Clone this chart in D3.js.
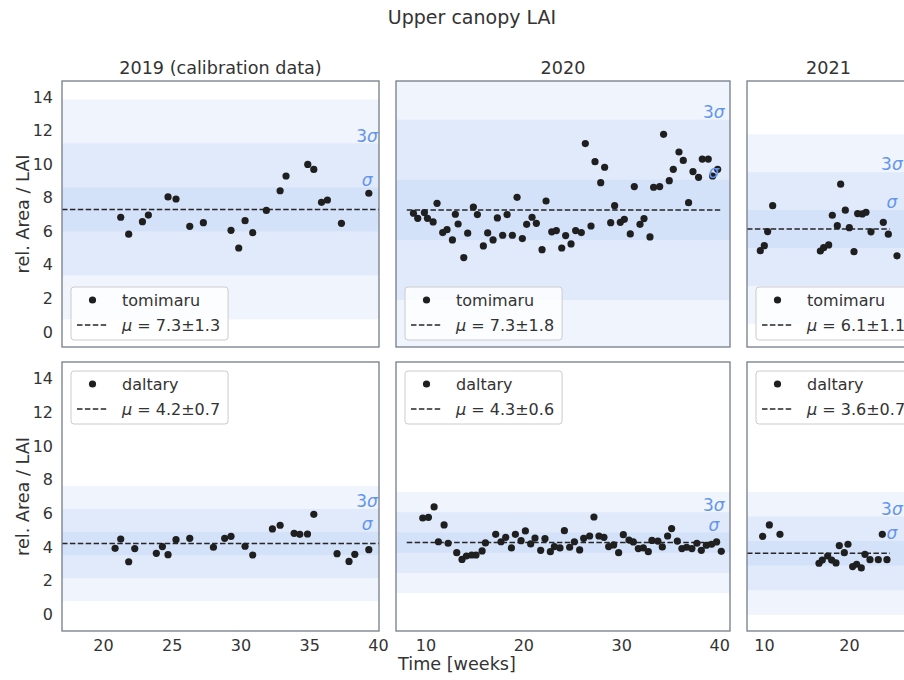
<!DOCTYPE html>
<html><head><meta charset="utf-8">
<script src="https://cdn.jsdelivr.net/npm/d3@7"></script>
<style>
body{margin:0;background:#fff;overflow:hidden}
svg{display:block}
text{font-family:"DejaVu Sans",sans-serif;fill:#333333}
</style>
</head><body><svg id="chart" width="904" height="680"></svg>
<script>
// ---------- data ----------
const suptitle = "Upper canopy LAI";
const columnTitles = ["2019 (calibration data)", "2020", "2021"];
const rowNames = ["tomimaru", "daltary"];
const xDomains = [[17.02, 40.07], [7.0, 41.1], [8.0, 27.18]];
const xTicks = [[20, 25, 30, 35, 40], [10, 20, 30, 40], [10, 20]];
const yTicks = [0, 2, 4, 6, 8, 10, 12, 14];
const meanLineRanges = [[17.02, 40.07], [8.1, 40.1], [8.0, 24.8]];
const sigmaLabelX = [39.2, 39.45, 25.05];
const sigmaLevels = [5, 3, 1];

// tomimaru
const tomiWeeks2019 = [21.29,21.87,22.87,23.3,24.73,25.31,26.31,27.3,29.31,29.87,30.33,30.89,31.88,32.88,33.31,34.89,35.33,35.89,36.32,37.34,39.33];
const tomiLai2019   = [6.83,5.82,6.57,6.96,8.04,7.92,6.29,6.51,6.05,5.0,6.63,5.91,7.24,8.41,9.29,9.98,9.68,7.72,7.86,6.47,8.26];
const tomiWeeks2020 = [8.78,9.22,9.9,10.21,10.79,11.19,11.77,12.21,12.76,13.06,13.34,13.92,14.32,14.9,15.31,15.92,16.36,16.91,17.35,17.89,18.34,18.88,19.36,19.9,20.34,20.89,21.33,21.91,22.32,22.9,23.37,23.92,24.32,24.87,25.34,25.92,26.33,26.91,27.32,27.9,28.3,28.92,29.32,29.9,30.31,30.92,31.33,31.91,32.32,32.93,33.3,33.92,34.32,34.9,35.31,35.89,36.33,36.87,37.32,37.89,38.27,38.88,39.32,39.84];
const tomiLai2020   = [7.07,6.77,7.11,6.77,6.55,7.66,5.92,6.09,5.48,7.01,6.43,4.43,5.88,7.44,6.99,5.12,5.9,5.48,6.79,5.76,6.99,5.76,8.02,5.56,6.41,6.83,6.47,4.9,7.8,5.96,6.04,5.0,5.74,5.24,6.04,5.92,11.22,6.31,10.14,8.89,9.81,6.51,7.52,6.53,6.71,5.84,8.66,6.41,6.75,5.66,8.62,8.66,11.77,9.01,9.69,10.72,10.22,7.7,9.55,9.21,10.3,10.3,9.29,9.69];
const tomiWeeks2021 = [9.57,10.04,10.43,11.02,16.63,17.02,17.61,18.04,18.63,19.02,19.57,20.04,20.59,21.02,21.57,22.0,22.59,24.04,24.63,25.65];
const tomiLai2021   = [4.84,5.14,5.98,7.52,4.82,5.02,5.18,6.95,6.33,8.8,7.25,6.21,4.78,7.05,7.03,7.13,5.96,6.53,5.82,4.53];
const tomiMean = [7.3, 7.27, 6.13];
const tomiSd   = [1.31, 1.79, 1.13];

// daltary
const daltWeeks2019 = [20.88,21.29,21.87,22.31,23.88,24.32,24.73,25.31,26.31,28.03,28.85,29.31,30.33,30.89,32.32,32.88,33.9,34.31,34.87,35.33,37.02,37.89,38.31,39.33];
const daltLai2019   = [3.92,4.47,3.12,3.9,3.62,4.02,3.54,4.43,4.51,3.98,4.51,4.63,4.04,3.52,5.07,5.29,4.81,4.75,4.77,5.94,3.6,3.14,3.56,3.84];
const daltWeeks2020 = [9.73,10.31,10.89,11.33,11.91,12.32,13.2,13.74,14.19,14.73,15.17,15.79,16.13,17.18,17.72,18.2,18.78,19.19,19.77,20.21,20.75,21.19,21.77,22.21,22.76,23.17,23.74,24.19,24.73,25.21,25.75,26.16,26.77,27.21,27.72,28.23,28.71,29.22,29.73,30.21,30.79,31.23,31.74,32.25,32.76,33.13,33.74,34.19,34.73,35.14,35.72,36.19,36.67,37.21,37.72,38.17,38.68,39.22,39.73,40.21];
const daltLai2020   = [5.72,5.76,6.38,4.31,5.31,4.22,3.66,3.26,3.46,3.52,3.52,3.76,4.24,4.75,4.31,4.57,3.94,4.75,4.37,4.95,4.18,4.53,3.8,4.49,3.72,4.02,3.94,4.97,3.98,4.31,3.82,4.51,4.65,5.78,4.65,4.57,4.02,4.12,3.66,4.73,4.41,4.3,3.9,3.94,3.72,4.39,4.35,4.0,4.65,5.09,4.35,3.9,3.98,3.9,4.22,3.8,4.1,4.16,4.3,3.74];
const daltWeeks2021 = [9.84,10.63,11.88,16.47,16.86,17.49,17.96,18.47,18.86,19.45,19.88,20.43,20.9,21.45,21.88,22.47,23.45,23.92,24.47];
const daltLai2021   = [4.63,5.31,4.75,3.03,3.22,3.46,3.22,3.05,4.08,3.66,4.16,2.83,2.97,2.75,3.56,3.24,3.24,4.75,3.24];
const daltMean = [4.2, 4.26, 3.62];
const daltSd   = [0.685, 0.6, 0.73];

const weeks = [[tomiWeeks2019, tomiWeeks2020, tomiWeeks2021], [daltWeeks2019, daltWeeks2020, daltWeeks2021]];
const lai   = [[tomiLai2019, tomiLai2020, tomiLai2021], [daltLai2019, daltLai2020, daltLai2021]];
const means = [tomiMean, daltMean];
const sds   = [tomiSd, daltSd];

// ---------- layout ----------
const colX = [[62, 379], [396, 730], [747, 910]];
const rowY = [[81, 347], [362, 631]];
const yDomains = [[-0.9, 14.95], [-1.0, 15.0]];
const band = "#6495ed";
const ink = "#262626";
const textInk = "#333333";
const frame = "#737b89";

const svg = d3.select("#chart");

svg.append("text").attr("x", 472).attr("y", 24).attr("text-anchor", "middle")
  .style("font-size", "19px").text(suptitle);

columnTitles.forEach((t, c) => {
  svg.append("text").attr("x", (colX[c][0] + colX[c][1]) / 2).attr("y", 73.5)
    .attr("text-anchor", "middle").style("font-size", "17.6px").text(t);
});

svg.append("text").attr("x", 457).attr("y", 670).attr("text-anchor", "middle")
  .style("font-size", "17.6px").text("Time [weeks]");

const defs = svg.append("defs");

for (let r = 0; r < 2; r++) {
  const y = d3.scaleLinear().domain(yDomains[r]).range([rowY[r][1], rowY[r][0]]);
  const cy = (rowY[r][0] + rowY[r][1]) / 2;
  svg.append("text").attr("transform", `translate(28.5,${cy}) rotate(-90)`)
    .attr("text-anchor", "middle").style("font-size", "17.6px").text("rel. Area / LAI");
  const yAxis = d3.axisLeft(y).tickValues(yTicks).tickSize(0).tickPadding(9);
  const gy = svg.append("g").attr("transform", `translate(${colX[0][0]},0)`).call(yAxis);
  gy.select(".domain").remove();
  gy.selectAll("text").style("font-size", "16px").style("font-family", "DejaVu Sans").attr("fill", textInk);

  for (let c = 0; c < 3; c++) {
    const x = d3.scaleLinear().domain(xDomains[c]).range(colX[c]);
    const x0 = colX[c][0], x1 = colX[c][1], y0 = rowY[r][0], y1 = rowY[r][1];
    const id = `clip${r}${c}`;
    defs.append("clipPath").attr("id", id).append("rect")
      .attr("x", x0).attr("y", y0).attr("width", x1 - x0).attr("height", y1 - y0);
    const g = svg.append("g").attr("clip-path", `url(#${id})`);
    const m = means[r][c], s = sds[r][c];

    g.selectAll("rect.band").data(sigmaLevels).join("rect").attr("class", "band")
      .attr("x", x0).attr("width", x1 - x0)
      .attr("y", k => y(m + k * s)).attr("height", k => y(m - k * s) - y(m + k * s))
      .attr("fill", band).attr("fill-opacity", 0.1);

    g.append("line")
      .attr("x1", x(meanLineRanges[c][0])).attr("x2", x(meanLineRanges[c][1]))
      .attr("y1", y(m)).attr("y2", y(m))
      .attr("stroke", ink).attr("stroke-width", 1.5).attr("stroke-dasharray", "5.5,2.4");

    const pts = weeks[r][c].map((w, i) => [w, lai[r][c][i]]);
    g.selectAll("circle").data(pts).join("circle")
      .attr("cx", d => x(d[0])).attr("cy", d => y(d[1])).attr("r", 3.6).attr("fill", "#1f1f1f");

    [[3, "3"], [1, ""]].forEach(([k, pre]) => {
      const t = g.append("text").attr("x", x(sigmaLabelX[c])).attr("y", y(m + k * s) - 1.8)
        .attr("text-anchor", "middle").style("font-size", "17px").style("fill", band);
      if (pre) t.append("tspan").text(pre);
      t.append("tspan").style("font-style", "italic").text("σ");
    });

    if (r === 1) {
      const xAxis = d3.axisBottom(x).tickValues(xTicks[c]).tickSize(0).tickPadding(9);
      const gx = svg.append("g").attr("transform", `translate(0,${y1})`).call(xAxis);
      gx.select(".domain").remove();
      gx.selectAll("text").style("font-size", "16px").style("font-family", "DejaVu Sans").attr("fill", textInk);
    }

    svg.append("rect").attr("x", x0).attr("y", y0).attr("width", x1 - x0).attr("height", y1 - y0)
      .attr("fill", "none").attr("stroke", frame).attr("stroke-width", 1.3);

    const lx = x0 + 9;
    const ly = r === 0 ? y1 - 7 - 53 : y0 + 9;
    const lg = svg.append("g");
    const box = lg.append("rect").attr("x", lx).attr("y", ly).attr("height", 53).attr("rx", 3)
      .attr("fill", "#fff").attr("fill-opacity", 0.8).attr("stroke", "#cccccc").attr("stroke-width", 1);
    lg.append("circle").attr("cx", lx + 21.5).attr("cy", ly + 13).attr("r", 3.6).attr("fill", "#1f1f1f");
    const t1 = lg.append("text").attr("x", lx + 51).attr("y", ly + 13).attr("dy", "0.35em")
      .style("font-size", "16px").text(rowNames[r]);
    lg.append("line").attr("x1", lx + 6).attr("x2", lx + 36).attr("y1", ly + 38).attr("y2", ly + 38)
      .attr("stroke", ink).attr("stroke-width", 1.5).attr("stroke-dasharray", "5.5,2.4");
    const t2 = lg.append("text").attr("x", lx + 51).attr("y", ly + 38).attr("dy", "0.35em")
      .style("font-size", "16px");
    t2.append("tspan").style("font-style", "italic").text("μ");
    t2.append("tspan").text(` = ${m.toFixed(1)}±${s.toFixed(1)}`);
    const w = Math.max(t1.node().getComputedTextLength(), t2.node().getComputedTextLength());
    box.attr("width", 51 + w + 8);
  }
}
</script>
</body></html>
